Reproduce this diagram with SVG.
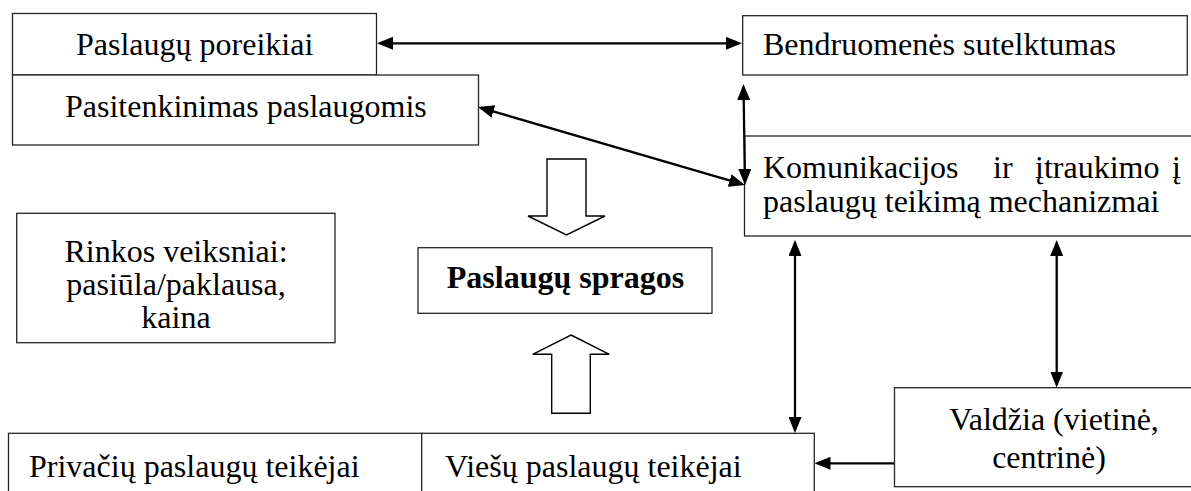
<svg xmlns="http://www.w3.org/2000/svg" width="1191" height="491" viewBox="0 0 1191 491">
<defs>
<style>
.box{fill:#fff;stroke:#262626;stroke-width:1.3}
.t{font-family:"Liberation Serif","Times New Roman",serif;font-size:32px;fill:#000}
.b{font-weight:bold}
.c{text-anchor:middle}
.con{stroke:#000;stroke-width:2.3;fill:none}
.hollow{fill:#fff;stroke:#000;stroke-width:1.4;stroke-linejoin:miter}
</style>
<marker id="ah" markerUnits="userSpaceOnUse" markerWidth="16" markerHeight="13" refX="13" refY="6.5" orient="auto-start-reverse" viewBox="0 0 16 13">
<path d="M0,0 L16,6.5 L0,13 z" fill="#000"/>
</marker>
</defs>
<rect width="1191" height="491" fill="#fff"/>

<g id="n-poreikiai">
<rect class="box" x="12.5" y="13.5" width="364" height="61.5"/>
<text class="t" x="76" y="55">Paslaugų poreikiai</text>
</g>
<g id="n-pasitenkinimas">
<rect class="box" x="12.5" y="75" width="466" height="70"/>
<text class="t" x="65" y="117">Pasitenkinimas paslaugomis</text>
</g>
<g id="n-bendruomenes">
<rect class="box" x="742.7" y="15.7" width="444.6" height="59.3"/>
<text class="t" x="763" y="55">Bendruomenės sutelktumas</text>
</g>
<g id="n-komunikacijos">
<rect class="box" x="744.5" y="136" width="460" height="100"/>
<text class="t" y="178"><tspan x="763">Komunikacijos</tspan><tspan x="993">ir</tspan><tspan x="1035">įtraukimo</tspan><tspan x="1172">į</tspan></text>
<text class="t" x="763" y="212">paslaugų teikimą mechanizmai</text>
</g>
<g id="n-rinkos">
<rect class="box" x="16.7" y="213.3" width="318.3" height="129.4"/>
<text class="t c" x="176" y="262">Rinkos veiksniai:</text>
<text class="t c" x="176" y="295">pasiūla/paklausa,</text>
<text class="t c" x="176" y="328">kaina</text>
</g>
<g id="n-spragos">
<rect class="box" x="418" y="247.7" width="294" height="65.6"/>
<text class="t b c" x="565.5" y="288.3">Paslaugų spragos</text>
</g>
<g id="n-privaciu">
<rect class="box" x="8.5" y="433.3" width="413.2" height="70"/>
<text class="t" x="29" y="476.7">Privačių paslaugų teikėjai</text>
</g>
<g id="n-viesu">
<rect class="box" x="421.7" y="433.3" width="392.6" height="70"/>
<text class="t" x="445" y="476.7">Viešų paslaugų teikėjai</text>
</g>
<g id="n-valdzia">
<rect class="box" x="894.5" y="387.7" width="310" height="99"/>
<text class="t c" x="1054" y="430">Valdžia (vietinė,</text>
<text class="t c" x="1049" y="468.3">centrinė)</text>
</g>

<g id="connectors">
<line class="con" x1="380" y1="43.3" x2="739" y2="43.3" marker-start="url(#ah)" marker-end="url(#ah)"/>
<line class="con" x1="480.9" y1="107.8" x2="742.1" y2="184.2" marker-start="url(#ah)" marker-end="url(#ah)"/>
<line class="con" x1="743.5" y1="87" x2="745" y2="182" marker-start="url(#ah)" marker-end="url(#ah)"/>
<line class="con" x1="795" y1="243" x2="795" y2="430" marker-start="url(#ah)" marker-end="url(#ah)"/>
<line class="con" x1="1056.7" y1="243" x2="1056.7" y2="384.5" marker-start="url(#ah)" marker-end="url(#ah)"/>
<line class="con" x1="894" y1="463.3" x2="817.5" y2="463.3" marker-end="url(#ah)"/>
<polygon class="hollow" points="547,159 586,159 586,216 605,216 566.5,235 528,216 547,216"/>
<polygon class="hollow" points="571,335 609.3,354.3 590.3,354.3 590.3,413.3 551.7,413.3 551.7,354.3 532.7,354.3"/>
</g>
</svg>
